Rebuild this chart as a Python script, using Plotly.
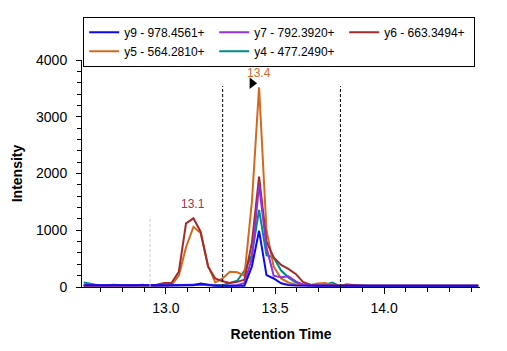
import plotly.graph_objects as go

rt = [12.623, 12.657, 12.690, 12.724, 12.757, 12.791, 12.824, 12.858, 12.891, 12.925,
      12.958, 12.992, 13.025, 13.059, 13.092, 13.126, 13.159, 13.193, 13.226, 13.260,
      13.293, 13.327, 13.360, 13.394, 13.427, 13.461, 13.494, 13.528, 13.561, 13.595,
      13.628, 13.662, 13.695, 13.729, 13.762, 13.796, 13.829, 13.863, 13.896, 13.930,
      13.963, 13.997, 14.030, 14.064, 14.097, 14.131, 14.164, 14.198, 14.231, 14.265,
      14.298, 14.332, 14.365, 14.399, 14.432]

y9 = [30, 30, 20, 20, 20, 20, 25, 20, 20, 20,
      20, 20, 20, 25, 30, 30, 60, 35, 20, 20,
      20, 20, 20, 360, 990, 210, 150, 65, 35, 25,
      20, 20, 20, 20, 20, 20, 20, 20, 20, 20,
      20, 20, 20, 20, 20, 20, 20, 20, 20, 20,
      20, 20, 20, 20, 20]
y7 = [30, 25, 25, 20, 25, 30, 25, 20, 40, 25,
      20, 20, 25, 30, 30, 35, 40, 30, 20, 20,
      20, 30, 70, 500, 1800, 700, 200, 170, 190, 100,
      40, 25, 25, 20, 20, 20, 20, 20, 20, 20,
      20, 20, 20, 20, 20, 20, 20, 20, 20, 20,
      20, 20, 20, 20, 20]
y6 = [20, 20, 20, 20, 20, 20, 20, 20, 20, 30,
      40, 70, 70, 270, 1120, 1210, 975, 358, 150, 100,
      70, 90, 130, 780, 1945, 800, 520, 390, 320, 230,
      90, 40, 30, 25, 25, 20, 40, 30, 20, 20,
      20, 20, 20, 20, 20, 20, 20, 20, 20, 20,
      20, 20, 20, 20, 20]
y5 = [20, 20, 20, 20, 20, 20, 20, 20, 20, 20,
      20, 30, 30, 200, 700, 1060, 950, 380, 80, 150,
      270, 260, 200, 1500, 3520, 1000, 360, 150, 80, 40,
      30, 30, 60, 70, 40, 20, 50, 30, 20, 20,
      20, 20, 20, 20, 20, 20, 20, 20, 20, 20,
      20, 20, 20, 20, 20]
y4 = [80, 60, 30, 25, 40, 35, 25, 30, 20, 20,
      20, 25, 30, 40, 40, 40, 45, 40, 30, 30,
      70, 110, 290, 560, 1360, 560, 520, 290, 170, 80,
      50, 40, 30, 35, 80, 20, 20, 20, 20, 20,
      20, 20, 20, 20, 20, 20, 20, 20, 20, 20,
      20, 20, 20, 20, 20]

names = ["y9 - 978.4561+", "y7 - 792.3920+", "y6 - 663.3494+", "y5 - 564.2810+", "y4 - 477.2490+"]
series = [y9, y7, y6, y5, y4]
colors = ["#0A0AF5", "#9030E0", "#A52A2A", "#D2691E", "#008B8B"]
draw_order = [4, 3, 2, 1, 0]  # blue drawn on top

peak_labels = ["13.4", "13.1"]
peak_rt = [13.427, 13.124]
peak_label_y = [3770, 1460]
peak_label_colors = ["#D2691E", "#993355"]

boundaries = [13.26, 13.80]
boundary_top = 3540
aux_rt = 12.927
aux_top = 1240

fig = go.Figure()
for i in draw_order:
    fig.add_trace(go.Scatter(x=rt, y=series[i], mode="lines", name=names[i],
                             line=dict(color=colors[i], width=2), legendrank=i + 1))

# flag marker
fig.add_trace(go.Scatter(x=[13.395], y=[3590], mode="markers", showlegend=False,
                         marker=dict(symbol="triangle-right", size=10, color="black")))

for b in boundaries:
    fig.add_shape(type="line", x0=b, x1=b, y0=0, y1=boundary_top, xref="x", yref="y",
                  line=dict(color="black", width=1, dash="3px,2px"))
fig.add_shape(type="line", x0=aux_rt, x1=aux_rt, y0=0, y1=aux_top, xref="x", yref="y",
              line=dict(color="#cccccc", width=1, dash="3px,2px"))

for t, x, y, c in zip(peak_labels, peak_rt, peak_label_y, peak_label_colors):
    fig.add_annotation(x=x, y=y, text=t, showarrow=False, font=dict(color=c, size=12))

fig.update_layout(
    width=507, height=351,
    margin=dict(l=82, r=27, t=60, b=64),
    paper_bgcolor="white", plot_bgcolor="white",
    font=dict(family="Liberation Sans, Arial", size=14, color="black"),
    legend=dict(orientation="h", x=0.003, y=1.19, xanchor="left", yanchor="top",
                xref="paper", yref="paper",
                bordercolor="black", borderwidth=1, font=dict(size=12),
                entrywidth=85, entrywidthmode="pixels", itemwidth=30,
                tracegroupgap=0),
    xaxis=dict(range=[12.615, 14.44], showgrid=False, zeroline=False,
               showline=True, linecolor="black", linewidth=1,
               ticks="outside", ticklen=6, tickcolor="black",
               tickvals=[13.0, 13.5, 14.0], ticktext=["13.0", "13.5", "14.0"],
               tickfont=dict(size=14), ticklabelstandoff=2,
               minor=dict(dtick=0.1, tick0=12.0, ticks="outside", ticklen=4, tickcolor="black"),
               title=dict(text="<b>Retention Time</b>", font=dict(size=14), standoff=14)),
    yaxis=dict(range=[0, 4000], showgrid=False, zeroline=False,
               showline=True, linecolor="black", linewidth=1,
               ticks="outside", ticklen=5, tickcolor="black",
               tickvals=[0, 1000, 2000, 3000, 4000], tickfont=dict(size=14),
               ticklabelstandoff=6,
               minor=dict(dtick=200, ticks="outside", ticklen=4, tickcolor="black"),
               title=dict(text="<b>Intensity</b>", font=dict(size=14), standoff=10)),
)

fig.write_html("out.html")
